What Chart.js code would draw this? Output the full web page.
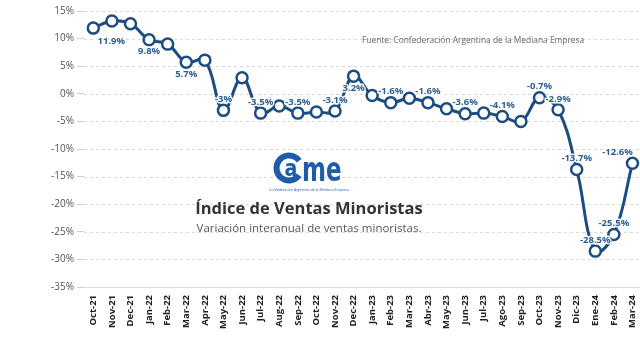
<!DOCTYPE html>
<html>
<head>
<meta charset="utf-8">
<script src="https://cdn.jsdelivr.net/npm/chart.js@4.4.1/dist/chart.umd.min.js"></script>
<style>
    html, body { margin: 0; padding: 0; background: #fff; overflow: hidden; }
    #wrap { position: relative; width: 640px; height: 362px; overflow: hidden; font-family: "Open Sans", sans-serif; }
    #box { position: absolute; left: 0; top: 0; width: 652px; height: 362px; }
    #source { position: absolute; left: 362px; top: 34px; font-size: 8.4px; color: #666; white-space: nowrap; }
    #caption { position: absolute; left: 257px; top: 187px; width: 104px; text-align: center; font-size: 3.5px; color: #1d5ca8; white-space: nowrap; }
    #title { position: absolute; left: 0; width: 618px; top: 196px; text-align: center; font-size: 16.5px; font-weight: 700; color: #333; }
    #subtitle { position: absolute; left: 0; width: 618px; top: 220px; text-align: center; font-size: 11.5px; color: #555; }
</style>
</head>
<body>
<div id="wrap">
    <div id="box"><canvas id="chart"></canvas></div>
    <div id="source">Fuente: Confederación Argentina de la Mediana Empresa</div>
    <div id="caption">Confederación Argentina de la Mediana Empresa</div>
    <div id="title">Índice de Ventas Minoristas</div>
    <div id="subtitle">Variación interanual de ventas minoristas.</div>
</div>
<script>
const months = ["Oct-21", "Nov-21", "Dec-21", "Jan-22", "Feb-22", "Mar-22", "Apr-22", "May-22", "Jun-22", "Jul-22",
    "Aug-22", "Sep-22", "Oct-22", "Nov-22", "Dec-22", "Jan-23", "Feb-23", "Mar-23", "Abr-23", "May-23",
    "Jun-23", "Jul-23", "Ago-23", "Sep-23", "Oct-23", "Nov-23", "Dic-23", "Ene-24", "Feb-24", "Mar-24"];
const values = [11.9, 13.2, 12.7, 9.8, 9.0, 5.7, 6.1, -3, 2.9, -3.5,
    -2.2, -3.5, -3.3, -3.1, 3.2, -0.3, -1.6, -0.8, -1.6, -2.7,
    -3.6, -3.5, -4.1, -5.0, -0.7, -2.9, -13.7, -28.5, -25.5, -12.6];
const yTicks = [15, 10, 5, 0, -5, -10, -15, -20, -25, -30, -35];

// which points get a value label, and where it sits
const labelSpots = { 0: "br", 3: "b", 5: "b", 7: "a", 9: "a", 11: "a", 13: "a", 14: "b", 16: "a", 18: "a",
    20: "a", 22: "a", 24: "a", 25: "a", 26: "a", 27: "a", 28: "a", 29: "al" };

const lineBlue = "#1c4d80";
const labelBlue = "#2d5f90";

// dashed horizontal grid (bottom one solid)
const dashedGrid = {
    id: "dashedGrid",
    beforeDatasetsDraw(chart) {
        const { ctx, chartArea, scales } = chart;
        ctx.save();
        ctx.lineWidth = 1;
        yTicks.forEach(v => {
            const y = Math.round(scales.y.getPixelForValue(v)) + 0.5;
            ctx.strokeStyle = v === -35 ? "#dcdcdc" : "#d9d9d9";
            ctx.setLineDash(v === -35 ? [] : [3, 3]);
            ctx.beginPath();
            ctx.moveTo(chartArea.left, y);
            ctx.lineTo(chartArea.right, y);
            ctx.stroke();
        });
        ctx.restore();
    }
};

const valueLabels = {
    id: "valueLabels",
    afterDatasetsDraw(chart) {
        const ctx = chart.ctx;
        const pts = chart.getDatasetMeta(0).data;
        ctx.save();
        ctx.font = "bold 9.5px 'Open Sans', sans-serif";
        ctx.textAlign = "center";
        ctx.textBaseline = "middle";
        ctx.lineJoin = "round";
        Object.keys(labelSpots).forEach(k => {
            const i = +k;
            const p = pts[i];
            let dx = 0, dy = -11;
            const spot = labelSpots[k];
            if (spot === "b") dy = 12;
            if (spot === "br") { dx = 18; dy = 13; }
            if (spot === "al") { dx = -15; dy = -11; }
            const txt = values[i] + "%";
            ctx.strokeStyle = "rgba(255,255,255,0.9)";
            ctx.lineWidth = 3;
            ctx.strokeText(txt, p.x + dx, p.y + dy);
            ctx.fillStyle = labelBlue;
            ctx.fillText(txt, p.x + dx, p.y + dy);
        });
        ctx.restore();
    }
};

const logo = {
    id: "logo",
    beforeDatasetsDraw(chart) {
        const ctx = chart.ctx;
        ctx.save();
        ctx.fillStyle = "#1d5ca8";
        ctx.strokeStyle = "#1d5ca8";
        // ring "c" around the "a"
        ctx.lineWidth = 6;
        ctx.beginPath();
        ctx.arc(289, 168, 12.5, 0.2 * Math.PI, 1.8 * Math.PI);
        ctx.stroke();
        ctx.textAlign = "center";
        ctx.font = "bold 19px 'DejaVu Sans', sans-serif";
        ctx.save();
        ctx.translate(291, 176);
        ctx.scale(1, 1.25);
        ctx.fillText("a", 0, 0);
        ctx.restore();
        ctx.textAlign = "left";
        ctx.translate(0, 181);
        ctx.scale(1, 1.45);
        ctx.font = "bold 23px 'DejaVu Sans', sans-serif";
        ctx.fillText("me", 302, 0);
        ctx.restore();
    }
};

new Chart(document.getElementById("chart"), {
    type: "line",
    data: {
        labels: months,
        datasets: [{
            data: values,
            borderColor: lineBlue,
            borderWidth: 3,
            tension: 0.4,
            pointRadius: 5.5,
            pointBorderWidth: 2.5,
            pointBackgroundColor: "#fff",
            pointBorderColor: lineBlue,
            clip: false
        }]
    },
    options: {
        responsive: true,
        maintainAspectRatio: false,
        animation: false,
        layout: { padding: { top: 11, right: 0, left: 0, bottom: 0 } },
        plugins: { legend: { display: false }, tooltip: { enabled: false } },
        scales: {
            x: {
                offset: true,
                grid: { display: false, drawTicks: false },
                border: { display: false },
                ticks: {
                    autoSkip: false, maxRotation: 90, minRotation: 90, padding: 8,
                    color: "#222", font: { family: "'Open Sans', sans-serif", size: 9.5, weight: "bold" }
                },
                afterFit(scale) { scale.height = 75; }
            },
            y: {
                min: -35, max: 15,
                afterBuildTicks(scale) { scale.ticks = yTicks.map(v => ({ value: v })); },
                grid: { drawOnChartArea: false, tickColor: "#cfcfcf", tickLength: 7 },
                border: { display: false },
                ticks: {
                    padding: 3, color: "#555",
                    font: { family: "'Open Sans', sans-serif", size: 10 },
                    callback: v => v + "%"
                },
                afterFit(scale) { scale.width = 84; }
            }
        }
    },
    plugins: [dashedGrid, logo, valueLabels]
});
</script>
</body>
</html>
